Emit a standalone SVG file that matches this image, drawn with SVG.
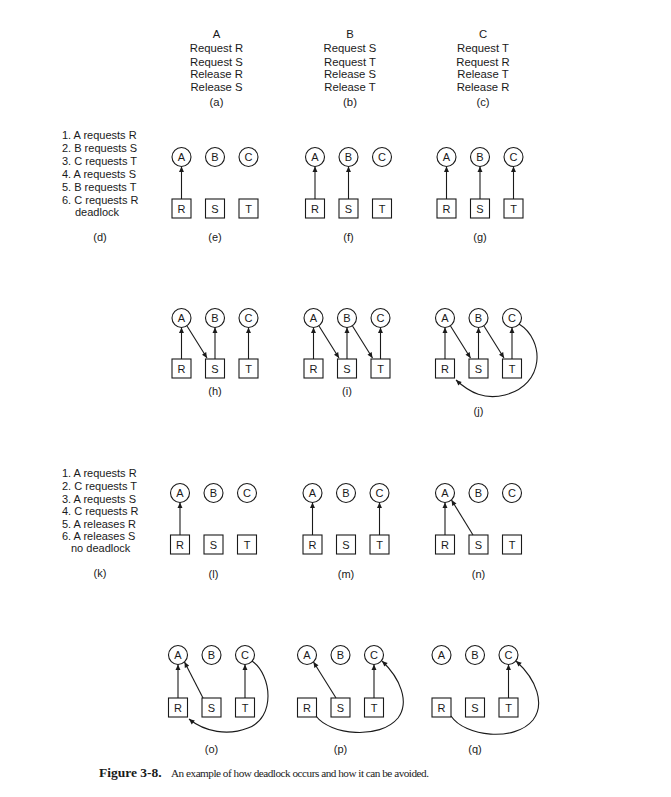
<svg xmlns="http://www.w3.org/2000/svg" width="671" height="797" viewBox="0 0 671 797">
<style>
text{font-family:"Liberation Sans",Arial,sans-serif;fill:#1a1a1a}
.h{font-size:11.3px;text-anchor:middle}
.l{font-size:11px}
.c{font-size:11px;text-anchor:middle}
.nd circle,.nd rect{fill:#fff;stroke:#1a1a1a;stroke-width:1.1}
.nd text{font-size:11px;text-anchor:middle}
.cn path{fill:none;stroke:#1a1a1a;stroke-width:1.1;marker-end:url(#ah)}
.cap{font-family:"Liberation Serif","Times New Roman",serif}
</style>
<defs>
<marker id="ah" viewBox="0 0 10 10" refX="10" refY="5" markerWidth="7" markerHeight="5.5" markerUnits="userSpaceOnUse" orient="auto"><path d="M0,0.5 L10,5 L0,9.5 z" fill="#1a1a1a"/></marker>
</defs>
<rect width="671" height="797" fill="#fff"/>

<g id="processes">
<text class="h" x="216.5" y="37.5">A</text>
<text class="h" x="216.5" y="52.3">Request R</text>
<text class="h" x="216.5" y="65.5">Request S</text>
<text class="h" x="216.5" y="78">Release R</text>
<text class="h" x="216.5" y="90.7">Release S</text>
<text class="h" x="216.5" y="105.7">(a)</text>
<text class="h" x="350" y="37.5">B</text>
<text class="h" x="350" y="52.3">Request S</text>
<text class="h" x="350" y="65.5">Request T</text>
<text class="h" x="350" y="78">Release S</text>
<text class="h" x="350" y="90.7">Release T</text>
<text class="h" x="350" y="105.7">(b)</text>
<text class="h" x="483" y="37.5">C</text>
<text class="h" x="483" y="52.3">Request T</text>
<text class="h" x="483" y="65.5">Request R</text>
<text class="h" x="483" y="78">Release T</text>
<text class="h" x="483" y="90.7">Release R</text>
<text class="h" x="483" y="105.7">(c)</text>
</g>

<g id="list-d">
<text class="l" x="62" y="139">1. A requests R</text>
<text class="l" x="62" y="152">2. B requests S</text>
<text class="l" x="62" y="165">3. C requests T</text>
<text class="l" x="62" y="178">4. A requests S</text>
<text class="l" x="62" y="191">5. B requests T</text>
<text class="l" x="62" y="204">6. C requests R</text>
<text class="l" x="75" y="216">deadlock</text>
<text class="c" x="100" y="241">(d)</text>
</g>
<g id="list-k">
<text class="l" x="62" y="477">1. A requests R</text>
<text class="l" x="62" y="490">2. C requests T</text>
<text class="l" x="62" y="502.5">3. A requests S</text>
<text class="l" x="62" y="515">4. C requests R</text>
<text class="l" x="62" y="527.5">5. A releases R</text>
<text class="l" x="62" y="540">6. A releases S</text>
<text class="l" x="71" y="552">no deadlock</text>
<text class="c" x="100" y="577">(k)</text>
</g>

<g id="e-A" class="nd"><circle cx="181.5" cy="157" r="9.5"/><text x="181.5" y="161">A</text></g>
<g id="e-B" class="nd"><circle cx="215" cy="157" r="9.5"/><text x="215" y="161">B</text></g>
<g id="e-C" class="nd"><circle cx="248.5" cy="157" r="9.5"/><text x="248.5" y="161">C</text></g>
<g id="e-R" class="nd"><rect x="172" y="199" width="19" height="19"/><text x="181.5" y="212.5">R</text></g>
<g id="e-S" class="nd"><rect x="205.5" y="199" width="19" height="19"/><text x="215" y="212.5">S</text></g>
<g id="e-T" class="nd"><rect x="239" y="199" width="19" height="19"/><text x="248.5" y="212.5">T</text></g>
<text class="c" x="215" y="241">(e)</text>

<g id="f-A" class="nd"><circle cx="315" cy="157" r="9.5"/><text x="315" y="161">A</text></g>
<g id="f-B" class="nd"><circle cx="348.5" cy="157" r="9.5"/><text x="348.5" y="161">B</text></g>
<g id="f-C" class="nd"><circle cx="382" cy="157" r="9.5"/><text x="382" y="161">C</text></g>
<g id="f-R" class="nd"><rect x="305.5" y="199" width="19" height="19"/><text x="315" y="212.5">R</text></g>
<g id="f-S" class="nd"><rect x="339" y="199" width="19" height="19"/><text x="348.5" y="212.5">S</text></g>
<g id="f-T" class="nd"><rect x="372.5" y="199" width="19" height="19"/><text x="382" y="212.5">T</text></g>
<text class="c" x="348.5" y="241">(f)</text>

<g id="g-A" class="nd"><circle cx="446.5" cy="157" r="9.5"/><text x="446.5" y="161">A</text></g>
<g id="g-B" class="nd"><circle cx="480" cy="157" r="9.5"/><text x="480" y="161">B</text></g>
<g id="g-C" class="nd"><circle cx="513.5" cy="157" r="9.5"/><text x="513.5" y="161">C</text></g>
<g id="g-R" class="nd"><rect x="437" y="199" width="19" height="19"/><text x="446.5" y="212.5">R</text></g>
<g id="g-S" class="nd"><rect x="470.5" y="199" width="19" height="19"/><text x="480" y="212.5">S</text></g>
<g id="g-T" class="nd"><rect x="504" y="199" width="19" height="19"/><text x="513.5" y="212.5">T</text></g>
<text class="c" x="480" y="241">(g)</text>

<g id="h-A" class="nd"><circle cx="181.5" cy="318" r="9.5"/><text x="181.5" y="322">A</text></g>
<g id="h-B" class="nd"><circle cx="215" cy="318" r="9.5"/><text x="215" y="322">B</text></g>
<g id="h-C" class="nd"><circle cx="248.5" cy="318" r="9.5"/><text x="248.5" y="322">C</text></g>
<g id="h-R" class="nd"><rect x="172" y="359" width="19" height="19"/><text x="181.5" y="372.5">R</text></g>
<g id="h-S" class="nd"><rect x="205.5" y="359" width="19" height="19"/><text x="215" y="372.5">S</text></g>
<g id="h-T" class="nd"><rect x="239" y="359" width="19" height="19"/><text x="248.5" y="372.5">T</text></g>
<text class="c" x="215" y="395">(h)</text>

<g id="i-A" class="nd"><circle cx="313.5" cy="318" r="9.5"/><text x="313.5" y="322">A</text></g>
<g id="i-B" class="nd"><circle cx="347" cy="318" r="9.5"/><text x="347" y="322">B</text></g>
<g id="i-C" class="nd"><circle cx="380.5" cy="318" r="9.5"/><text x="380.5" y="322">C</text></g>
<g id="i-R" class="nd"><rect x="304" y="359" width="19" height="19"/><text x="313.5" y="372.5">R</text></g>
<g id="i-S" class="nd"><rect x="337.5" y="359" width="19" height="19"/><text x="347" y="372.5">S</text></g>
<g id="i-T" class="nd"><rect x="371" y="359" width="19" height="19"/><text x="380.5" y="372.5">T</text></g>
<text class="c" x="347" y="395">(i)</text>

<g id="j-A" class="nd"><circle cx="445" cy="318" r="9.5"/><text x="445" y="322">A</text></g>
<g id="j-B" class="nd"><circle cx="478.5" cy="318" r="9.5"/><text x="478.5" y="322">B</text></g>
<g id="j-C" class="nd"><circle cx="512" cy="318" r="9.5"/><text x="512" y="322">C</text></g>
<g id="j-R" class="nd"><rect x="435.5" y="359" width="19" height="19"/><text x="445" y="372.5">R</text></g>
<g id="j-S" class="nd"><rect x="469" y="359" width="19" height="19"/><text x="478.5" y="372.5">S</text></g>
<g id="j-T" class="nd"><rect x="502.5" y="359" width="19" height="19"/><text x="512" y="372.5">T</text></g>
<text class="c" x="478.5" y="415">(j)</text>

<g id="l-A" class="nd"><circle cx="180" cy="493" r="9.5"/><text x="180" y="497">A</text></g>
<g id="l-B" class="nd"><circle cx="213.5" cy="493" r="9.5"/><text x="213.5" y="497">B</text></g>
<g id="l-C" class="nd"><circle cx="247" cy="493" r="9.5"/><text x="247" y="497">C</text></g>
<g id="l-R" class="nd"><rect x="170.5" y="535" width="19" height="19"/><text x="180" y="548.5">R</text></g>
<g id="l-S" class="nd"><rect x="204" y="535" width="19" height="19"/><text x="213.5" y="548.5">S</text></g>
<g id="l-T" class="nd"><rect x="237.5" y="535" width="19" height="19"/><text x="247" y="548.5">T</text></g>
<text class="c" x="213.5" y="578">(l)</text>

<g id="m-A" class="nd"><circle cx="312.5" cy="493" r="9.5"/><text x="312.5" y="497">A</text></g>
<g id="m-B" class="nd"><circle cx="346" cy="493" r="9.5"/><text x="346" y="497">B</text></g>
<g id="m-C" class="nd"><circle cx="379.5" cy="493" r="9.5"/><text x="379.5" y="497">C</text></g>
<g id="m-R" class="nd"><rect x="303" y="535" width="19" height="19"/><text x="312.5" y="548.5">R</text></g>
<g id="m-S" class="nd"><rect x="336.5" y="535" width="19" height="19"/><text x="346" y="548.5">S</text></g>
<g id="m-T" class="nd"><rect x="370" y="535" width="19" height="19"/><text x="379.5" y="548.5">T</text></g>
<text class="c" x="346" y="578">(m)</text>

<g id="n-A" class="nd"><circle cx="445" cy="493" r="9.5"/><text x="445" y="497">A</text></g>
<g id="n-B" class="nd"><circle cx="478.5" cy="493" r="9.5"/><text x="478.5" y="497">B</text></g>
<g id="n-C" class="nd"><circle cx="512" cy="493" r="9.5"/><text x="512" y="497">C</text></g>
<g id="n-R" class="nd"><rect x="435.5" y="535" width="19" height="19"/><text x="445" y="548.5">R</text></g>
<g id="n-S" class="nd"><rect x="469" y="535" width="19" height="19"/><text x="478.5" y="548.5">S</text></g>
<g id="n-T" class="nd"><rect x="502.5" y="535" width="19" height="19"/><text x="512" y="548.5">T</text></g>
<text class="c" x="478.5" y="578">(n)</text>

<g id="o-A" class="nd"><circle cx="178" cy="655" r="9.5"/><text x="178" y="659">A</text></g>
<g id="o-B" class="nd"><circle cx="211.5" cy="655" r="9.5"/><text x="211.5" y="659">B</text></g>
<g id="o-C" class="nd"><circle cx="245" cy="655" r="9.5"/><text x="245" y="659">C</text></g>
<g id="o-R" class="nd"><rect x="168.5" y="698" width="19" height="19"/><text x="178" y="711.5">R</text></g>
<g id="o-S" class="nd"><rect x="202" y="698" width="19" height="19"/><text x="211.5" y="711.5">S</text></g>
<g id="o-T" class="nd"><rect x="235.5" y="698" width="19" height="19"/><text x="245" y="711.5">T</text></g>
<text class="c" x="211.5" y="753">(o)</text>

<g id="p-A" class="nd"><circle cx="307" cy="655" r="9.5"/><text x="307" y="659">A</text></g>
<g id="p-B" class="nd"><circle cx="340.5" cy="655" r="9.5"/><text x="340.5" y="659">B</text></g>
<g id="p-C" class="nd"><circle cx="374" cy="655" r="9.5"/><text x="374" y="659">C</text></g>
<g id="p-R" class="nd"><rect x="297.5" y="698" width="19" height="19"/><text x="307" y="711.5">R</text></g>
<g id="p-S" class="nd"><rect x="331" y="698" width="19" height="19"/><text x="340.5" y="711.5">S</text></g>
<g id="p-T" class="nd"><rect x="364.5" y="698" width="19" height="19"/><text x="374" y="711.5">T</text></g>
<text class="c" x="340.5" y="753">(p)</text>

<g id="q-A" class="nd"><circle cx="441.5" cy="655" r="9.5"/><text x="441.5" y="659">A</text></g>
<g id="q-B" class="nd"><circle cx="475" cy="655" r="9.5"/><text x="475" y="659">B</text></g>
<g id="q-C" class="nd"><circle cx="508.5" cy="655" r="9.5"/><text x="508.5" y="659">C</text></g>
<g id="q-R" class="nd"><rect x="432" y="698" width="19" height="19"/><text x="441.5" y="711.5">R</text></g>
<g id="q-S" class="nd"><rect x="465.5" y="698" width="19" height="19"/><text x="475" y="711.5">S</text></g>
<g id="q-T" class="nd"><rect x="499" y="698" width="19" height="19"/><text x="508.5" y="711.5">T</text></g>
<text class="c" x="475" y="753">(q)</text>

<g id="connectors" class="cn">
<path d="M181.5,199 V166.5"/>
<path d="M315,199 V166.5"/>
<path d="M348.5,199 V166.5"/>
<path d="M446.5,199 V166.5"/>
<path d="M480,199 V166.5"/>
<path d="M513.5,199 V166.5"/>
<path d="M181.5,359 V327.5"/>
<path d="M187,326 L207,358"/>
<path d="M215,359 V327.5"/>
<path d="M248.5,359 V327.5"/>
<path d="M313.5,359 V327.5"/>
<path d="M319,326 L339,358"/>
<path d="M347,359 V327.5"/>
<path d="M352.5,326 L372.5,358"/>
<path d="M380.5,359 V327.5"/>
<path d="M445,359 V327.5"/>
<path d="M450.5,326 L470.5,358"/>
<path d="M478.5,359 V327.5"/>
<path d="M484,326 L504,358"/>
<path d="M512,359 V327.5"/>
<path d="M519,324 C545,340 545,385 505,395 C485,400 470,393 456,380"/>
<path d="M180,535 V502.5"/>
<path d="M312.5,535 V502.5"/>
<path d="M379.5,535 V502.5"/>
<path d="M445,535 V502.5"/>
<path d="M473,535 L451.5,500"/>
<path d="M178,698 V664.5"/>
<path d="M203,698 L184.5,662"/>
<path d="M245,698 V664.5"/>
<path d="M252,661 C272,675 276,718 248,728 C228,736 205,732 189,719"/>
<path d="M336,698 L313.5,662"/>
<path d="M374,698 V664.5"/>
<path d="M316,716 C330,735 380,740 398,718 C410,702 400,678 382,661"/>
<path d="M508.5,698 V664.5"/>
<path d="M451,716 C465,737 515,742 533,720 C545,704 537,680 516,661"/>
</g>

<g id="caption">
<text class="cap" x="99" y="777" font-size="13.5" font-weight="bold">Figure 3-8.</text>
<text class="cap" x="171" y="777" font-size="11.2" textLength="258" lengthAdjust="spacing">An example of how deadlock occurs and how it can be avoided.</text>
</g>
</svg>
